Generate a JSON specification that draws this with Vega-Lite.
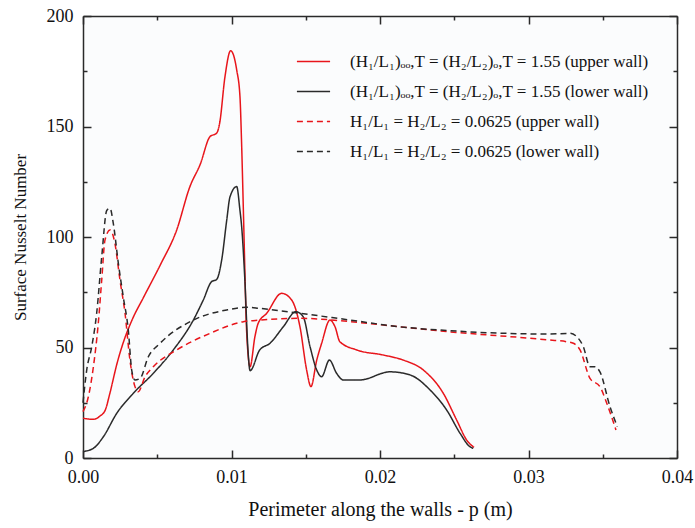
{
  "$schema": "https://vega.github.io/schema/vega-lite/v6.json",
  "width": 594,
  "height": 442,
  "autosize": "none",
  "padding": {"left": 83, "top": 16, "right": 18, "bottom": 70},
  "background": "#ffffff",
  "config": {
    "font": "Liberation Serif",
    "view": {"stroke": null, "fill": "#fbfcfd"},
    "axis": {
      "grid": false,
      "domainColor": "#2a2a2a",
      "domainWidth": 1.5,
      "tickColor": "#2a2a2a",
      "tickWidth": 1.5,
      "labelFont": "Liberation Serif",
      "labelFontSize": 18,
      "labelColor": "#111111",
      "titleFont": "Liberation Serif",
      "titleFontWeight": "normal",
      "titleColor": "#111111"
    }
  },
  "datasets": {
    "curves": [
      {"p": 0, "nu": 18, "s": "(H₁/L₁)ₒₒ,T = (H₂/L₂)ₒ,T = 1.55 (upper wall)"},
      {"p": 0.0007, "nu": 17.5, "s": "(H₁/L₁)ₒₒ,T = (H₂/L₂)ₒ,T = 1.55 (upper wall)"},
      {"p": 0.00115, "nu": 19, "s": "(H₁/L₁)ₒₒ,T = (H₂/L₂)ₒ,T = 1.55 (upper wall)"},
      {"p": 0.0015, "nu": 21.7, "s": "(H₁/L₁)ₒₒ,T = (H₂/L₂)ₒ,T = 1.55 (upper wall)"},
      {"p": 0.0018, "nu": 29, "s": "(H₁/L₁)ₒₒ,T = (H₂/L₂)ₒ,T = 1.55 (upper wall)"},
      {"p": 0.0023, "nu": 43, "s": "(H₁/L₁)ₒₒ,T = (H₂/L₂)ₒ,T = 1.55 (upper wall)"},
      {"p": 0.0027, "nu": 52, "s": "(H₁/L₁)ₒₒ,T = (H₂/L₂)ₒ,T = 1.55 (upper wall)"},
      {"p": 0.0033, "nu": 62.4, "s": "(H₁/L₁)ₒₒ,T = (H₂/L₂)ₒ,T = 1.55 (upper wall)"},
      {"p": 0.0041, "nu": 73, "s": "(H₁/L₁)ₒₒ,T = (H₂/L₂)ₒ,T = 1.55 (upper wall)"},
      {"p": 0.0052, "nu": 87.3, "s": "(H₁/L₁)ₒₒ,T = (H₂/L₂)ₒ,T = 1.55 (upper wall)"},
      {"p": 0.0063, "nu": 103, "s": "(H₁/L₁)ₒₒ,T = (H₂/L₂)ₒ,T = 1.55 (upper wall)"},
      {"p": 0.0072, "nu": 122.8, "s": "(H₁/L₁)ₒₒ,T = (H₂/L₂)ₒ,T = 1.55 (upper wall)"},
      {"p": 0.0079, "nu": 133, "s": "(H₁/L₁)ₒₒ,T = (H₂/L₂)ₒ,T = 1.55 (upper wall)"},
      {"p": 0.00855, "nu": 145.4, "s": "(H₁/L₁)ₒₒ,T = (H₂/L₂)ₒ,T = 1.55 (upper wall)"},
      {"p": 0.009, "nu": 147, "s": "(H₁/L₁)ₒₒ,T = (H₂/L₂)ₒ,T = 1.55 (upper wall)"},
      {"p": 0.0092, "nu": 151.4, "s": "(H₁/L₁)ₒₒ,T = (H₂/L₂)ₒ,T = 1.55 (upper wall)"},
      {"p": 0.00956, "nu": 172.5, "s": "(H₁/L₁)ₒₒ,T = (H₂/L₂)ₒ,T = 1.55 (upper wall)"},
      {"p": 0.00994, "nu": 184.3, "s": "(H₁/L₁)ₒₒ,T = (H₂/L₂)ₒ,T = 1.55 (upper wall)"},
      {"p": 0.01035, "nu": 175.6, "s": "(H₁/L₁)ₒₒ,T = (H₂/L₂)ₒ,T = 1.55 (upper wall)"},
      {"p": 0.01057, "nu": 163.5, "s": "(H₁/L₁)ₒₒ,T = (H₂/L₂)ₒ,T = 1.55 (upper wall)"},
      {"p": 0.01068, "nu": 142.4, "s": "(H₁/L₁)ₒₒ,T = (H₂/L₂)ₒ,T = 1.55 (upper wall)"},
      {"p": 0.0108, "nu": 112, "s": "(H₁/L₁)ₒₒ,T = (H₂/L₂)ₒ,T = 1.55 (upper wall)"},
      {"p": 0.0109, "nu": 85, "s": "(H₁/L₁)ₒₒ,T = (H₂/L₂)ₒ,T = 1.55 (upper wall)"},
      {"p": 0.011, "nu": 60, "s": "(H₁/L₁)ₒₒ,T = (H₂/L₂)ₒ,T = 1.55 (upper wall)"},
      {"p": 0.01125, "nu": 41.3, "s": "(H₁/L₁)ₒₒ,T = (H₂/L₂)ₒ,T = 1.55 (upper wall)"},
      {"p": 0.01158, "nu": 55, "s": "(H₁/L₁)ₒₒ,T = (H₂/L₂)ₒ,T = 1.55 (upper wall)"},
      {"p": 0.0118, "nu": 61, "s": "(H₁/L₁)ₒₒ,T = (H₂/L₂)ₒ,T = 1.55 (upper wall)"},
      {"p": 0.01237, "nu": 65.5, "s": "(H₁/L₁)ₒₒ,T = (H₂/L₂)ₒ,T = 1.55 (upper wall)"},
      {"p": 0.01338, "nu": 74.5, "s": "(H₁/L₁)ₒₒ,T = (H₂/L₂)ₒ,T = 1.55 (upper wall)"},
      {"p": 0.01405, "nu": 71.5, "s": "(H₁/L₁)ₒₒ,T = (H₂/L₂)ₒ,T = 1.55 (upper wall)"},
      {"p": 0.01461, "nu": 59.4, "s": "(H₁/L₁)ₒₒ,T = (H₂/L₂)ₒ,T = 1.55 (upper wall)"},
      {"p": 0.01506, "nu": 39.8, "s": "(H₁/L₁)ₒₒ,T = (H₂/L₂)ₒ,T = 1.55 (upper wall)"},
      {"p": 0.01535, "nu": 32.3, "s": "(H₁/L₁)ₒₒ,T = (H₂/L₂)ₒ,T = 1.55 (upper wall)"},
      {"p": 0.01574, "nu": 44.3, "s": "(H₁/L₁)ₒₒ,T = (H₂/L₂)ₒ,T = 1.55 (upper wall)"},
      {"p": 0.01607, "nu": 51.9, "s": "(H₁/L₁)ₒₒ,T = (H₂/L₂)ₒ,T = 1.55 (upper wall)"},
      {"p": 0.01663, "nu": 62.4, "s": "(H₁/L₁)ₒₒ,T = (H₂/L₂)ₒ,T = 1.55 (upper wall)"},
      {"p": 0.01697, "nu": 59.4, "s": "(H₁/L₁)ₒₒ,T = (H₂/L₂)ₒ,T = 1.55 (upper wall)"},
      {"p": 0.0173, "nu": 52.6, "s": "(H₁/L₁)ₒₒ,T = (H₂/L₂)ₒ,T = 1.55 (upper wall)"},
      {"p": 0.01843, "nu": 48.9, "s": "(H₁/L₁)ₒₒ,T = (H₂/L₂)ₒ,T = 1.55 (upper wall)"},
      {"p": 0.02022, "nu": 46.6, "s": "(H₁/L₁)ₒₒ,T = (H₂/L₂)ₒ,T = 1.55 (upper wall)"},
      {"p": 0.02157, "nu": 44.3, "s": "(H₁/L₁)ₒₒ,T = (H₂/L₂)ₒ,T = 1.55 (upper wall)"},
      {"p": 0.02292, "nu": 39.8, "s": "(H₁/L₁)ₒₒ,T = (H₂/L₂)ₒ,T = 1.55 (upper wall)"},
      {"p": 0.02426, "nu": 29.3, "s": "(H₁/L₁)ₒₒ,T = (H₂/L₂)ₒ,T = 1.55 (upper wall)"},
      {"p": 0.02516, "nu": 17.2, "s": "(H₁/L₁)ₒₒ,T = (H₂/L₂)ₒ,T = 1.55 (upper wall)"},
      {"p": 0.02584, "nu": 8.1, "s": "(H₁/L₁)ₒₒ,T = (H₂/L₂)ₒ,T = 1.55 (upper wall)"},
      {"p": 0.02633, "nu": 4.8, "s": "(H₁/L₁)ₒₒ,T = (H₂/L₂)ₒ,T = 1.55 (upper wall)"},

      {"p": 0, "nu": 2.9, "s": "(H₁/L₁)ₒₒ,T = (H₂/L₂)ₒ,T = 1.55 (lower wall)"},
      {"p": 0.0007, "nu": 4.4, "s": "(H₁/L₁)ₒₒ,T = (H₂/L₂)ₒ,T = 1.55 (lower wall)"},
      {"p": 0.00137, "nu": 9.6, "s": "(H₁/L₁)ₒₒ,T = (H₂/L₂)ₒ,T = 1.55 (lower wall)"},
      {"p": 0.00227, "nu": 20.2, "s": "(H₁/L₁)ₒₒ,T = (H₂/L₂)ₒ,T = 1.55 (lower wall)"},
      {"p": 0.00339, "nu": 29.3, "s": "(H₁/L₁)ₒₒ,T = (H₂/L₂)ₒ,T = 1.55 (lower wall)"},
      {"p": 0.00473, "nu": 38.3, "s": "(H₁/L₁)ₒₒ,T = (H₂/L₂)ₒ,T = 1.55 (lower wall)"},
      {"p": 0.00608, "nu": 48.9, "s": "(H₁/L₁)ₒₒ,T = (H₂/L₂)ₒ,T = 1.55 (lower wall)"},
      {"p": 0.00743, "nu": 62.4, "s": "(H₁/L₁)ₒₒ,T = (H₂/L₂)ₒ,T = 1.55 (lower wall)"},
      {"p": 0.0081, "nu": 71.5, "s": "(H₁/L₁)ₒₒ,T = (H₂/L₂)ₒ,T = 1.55 (lower wall)"},
      {"p": 0.00866, "nu": 79.8, "s": "(H₁/L₁)ₒₒ,T = (H₂/L₂)ₒ,T = 1.55 (lower wall)"},
      {"p": 0.009, "nu": 80.8, "s": "(H₁/L₁)ₒₒ,T = (H₂/L₂)ₒ,T = 1.55 (lower wall)"},
      {"p": 0.00934, "nu": 89.6, "s": "(H₁/L₁)ₒₒ,T = (H₂/L₂)ₒ,T = 1.55 (lower wall)"},
      {"p": 0.00968, "nu": 107.7, "s": "(H₁/L₁)ₒₒ,T = (H₂/L₂)ₒ,T = 1.55 (lower wall)"},
      {"p": 0.0099, "nu": 118.2, "s": "(H₁/L₁)ₒₒ,T = (H₂/L₂)ₒ,T = 1.55 (lower wall)"},
      {"p": 0.01035, "nu": 122.8, "s": "(H₁/L₁)ₒₒ,T = (H₂/L₂)ₒ,T = 1.55 (lower wall)"},
      {"p": 0.01057, "nu": 112, "s": "(H₁/L₁)ₒₒ,T = (H₂/L₂)ₒ,T = 1.55 (lower wall)"},
      {"p": 0.01068, "nu": 105, "s": "(H₁/L₁)ₒₒ,T = (H₂/L₂)ₒ,T = 1.55 (lower wall)"},
      {"p": 0.0109, "nu": 80.5, "s": "(H₁/L₁)ₒₒ,T = (H₂/L₂)ₒ,T = 1.55 (lower wall)"},
      {"p": 0.0111, "nu": 50, "s": "(H₁/L₁)ₒₒ,T = (H₂/L₂)ₒ,T = 1.55 (lower wall)"},
      {"p": 0.01125, "nu": 39.5, "s": "(H₁/L₁)ₒₒ,T = (H₂/L₂)ₒ,T = 1.55 (lower wall)"},
      {"p": 0.0119, "nu": 48.9, "s": "(H₁/L₁)ₒₒ,T = (H₂/L₂)ₒ,T = 1.55 (lower wall)"},
      {"p": 0.01259, "nu": 51.9, "s": "(H₁/L₁)ₒₒ,T = (H₂/L₂)ₒ,T = 1.55 (lower wall)"},
      {"p": 0.01349, "nu": 59.4, "s": "(H₁/L₁)ₒₒ,T = (H₂/L₂)ₒ,T = 1.55 (lower wall)"},
      {"p": 0.01434, "nu": 66.2, "s": "(H₁/L₁)ₒₒ,T = (H₂/L₂)ₒ,T = 1.55 (lower wall)"},
      {"p": 0.01483, "nu": 63.9, "s": "(H₁/L₁)ₒₒ,T = (H₂/L₂)ₒ,T = 1.55 (lower wall)"},
      {"p": 0.01529, "nu": 50.4, "s": "(H₁/L₁)ₒₒ,T = (H₂/L₂)ₒ,T = 1.55 (lower wall)"},
      {"p": 0.01574, "nu": 39.8, "s": "(H₁/L₁)ₒₒ,T = (H₂/L₂)ₒ,T = 1.55 (lower wall)"},
      {"p": 0.01607, "nu": 36.8, "s": "(H₁/L₁)ₒₒ,T = (H₂/L₂)ₒ,T = 1.55 (lower wall)"},
      {"p": 0.01659, "nu": 44.3, "s": "(H₁/L₁)ₒₒ,T = (H₂/L₂)ₒ,T = 1.55 (lower wall)"},
      {"p": 0.01708, "nu": 38.3, "s": "(H₁/L₁)ₒₒ,T = (H₂/L₂)ₒ,T = 1.55 (lower wall)"},
      {"p": 0.01753, "nu": 35.3, "s": "(H₁/L₁)ₒₒ,T = (H₂/L₂)ₒ,T = 1.55 (lower wall)"},
      {"p": 0.01865, "nu": 35.3, "s": "(H₁/L₁)ₒₒ,T = (H₂/L₂)ₒ,T = 1.55 (lower wall)"},
      {"p": 0.02067, "nu": 39, "s": "(H₁/L₁)ₒₒ,T = (H₂/L₂)ₒ,T = 1.55 (lower wall)"},
      {"p": 0.02202, "nu": 37.6, "s": "(H₁/L₁)ₒₒ,T = (H₂/L₂)ₒ,T = 1.55 (lower wall)"},
      {"p": 0.02337, "nu": 30.8, "s": "(H₁/L₁)ₒₒ,T = (H₂/L₂)ₒ,T = 1.55 (lower wall)"},
      {"p": 0.02449, "nu": 21.7, "s": "(H₁/L₁)ₒₒ,T = (H₂/L₂)ₒ,T = 1.55 (lower wall)"},
      {"p": 0.02539, "nu": 11.2, "s": "(H₁/L₁)ₒₒ,T = (H₂/L₂)ₒ,T = 1.55 (lower wall)"},
      {"p": 0.02606, "nu": 5.1, "s": "(H₁/L₁)ₒₒ,T = (H₂/L₂)ₒ,T = 1.55 (lower wall)"},
      {"p": 0.02628, "nu": 4.4, "s": "(H₁/L₁)ₒₒ,T = (H₂/L₂)ₒ,T = 1.55 (lower wall)"},

      {"p": 0, "nu": 21, "s": "H₁/L₁ = H₂/L₂ = 0.0625 (upper wall)"},
      {"p": 0.00036, "nu": 27.7, "s": "H₁/L₁ = H₂/L₂ = 0.0625 (upper wall)"},
      {"p": 0.0007, "nu": 41.3, "s": "H₁/L₁ = H₂/L₂ = 0.0625 (upper wall)"},
      {"p": 0.00103, "nu": 61, "s": "H₁/L₁ = H₂/L₂ = 0.0625 (upper wall)"},
      {"p": 0.00126, "nu": 80.5, "s": "H₁/L₁ = H₂/L₂ = 0.0625 (upper wall)"},
      {"p": 0.00148, "nu": 98.6, "s": "H₁/L₁ = H₂/L₂ = 0.0625 (upper wall)"},
      {"p": 0.00182, "nu": 103.2, "s": "H₁/L₁ = H₂/L₂ = 0.0625 (upper wall)"},
      {"p": 0.00215, "nu": 97.1, "s": "H₁/L₁ = H₂/L₂ = 0.0625 (upper wall)"},
      {"p": 0.00249, "nu": 80.5, "s": "H₁/L₁ = H₂/L₂ = 0.0625 (upper wall)"},
      {"p": 0.00283, "nu": 65.5, "s": "H₁/L₁ = H₂/L₂ = 0.0625 (upper wall)"},
      {"p": 0.00316, "nu": 44.3, "s": "H₁/L₁ = H₂/L₂ = 0.0625 (upper wall)"},
      {"p": 0.0035, "nu": 32.3, "s": "H₁/L₁ = H₂/L₂ = 0.0625 (upper wall)"},
      {"p": 0.00372, "nu": 30, "s": "H₁/L₁ = H₂/L₂ = 0.0625 (upper wall)"},
      {"p": 0.00418, "nu": 36.8, "s": "H₁/L₁ = H₂/L₂ = 0.0625 (upper wall)"},
      {"p": 0.00473, "nu": 41.3, "s": "H₁/L₁ = H₂/L₂ = 0.0625 (upper wall)"},
      {"p": 0.00631, "nu": 48.9, "s": "H₁/L₁ = H₂/L₂ = 0.0625 (upper wall)"},
      {"p": 0.00855, "nu": 56.4, "s": "H₁/L₁ = H₂/L₂ = 0.0625 (upper wall)"},
      {"p": 0.0108, "nu": 61.7, "s": "H₁/L₁ = H₂/L₂ = 0.0625 (upper wall)"},
      {"p": 0.0119, "nu": 62.4, "s": "H₁/L₁ = H₂/L₂ = 0.0625 (upper wall)"},
      {"p": 0.0146, "nu": 63.2, "s": "H₁/L₁ = H₂/L₂ = 0.0625 (upper wall)"},
      {"p": 0.018, "nu": 61.7, "s": "H₁/L₁ = H₂/L₂ = 0.0625 (upper wall)"},
      {"p": 0.0213, "nu": 59.4, "s": "H₁/L₁ = H₂/L₂ = 0.0625 (upper wall)"},
      {"p": 0.0247, "nu": 57.1, "s": "H₁/L₁ = H₂/L₂ = 0.0625 (upper wall)"},
      {"p": 0.0314, "nu": 53.4, "s": "H₁/L₁ = H₂/L₂ = 0.0625 (upper wall)"},
      {"p": 0.03257, "nu": 52.6, "s": "H₁/L₁ = H₂/L₂ = 0.0625 (upper wall)"},
      {"p": 0.03302, "nu": 51.9, "s": "H₁/L₁ = H₂/L₂ = 0.0625 (upper wall)"},
      {"p": 0.03347, "nu": 48.9, "s": "H₁/L₁ = H₂/L₂ = 0.0625 (upper wall)"},
      {"p": 0.03414, "nu": 36, "s": "H₁/L₁ = H₂/L₂ = 0.0625 (upper wall)"},
      {"p": 0.03481, "nu": 32.3, "s": "H₁/L₁ = H₂/L₂ = 0.0625 (upper wall)"},
      {"p": 0.03527, "nu": 24.8, "s": "H₁/L₁ = H₂/L₂ = 0.0625 (upper wall)"},
      {"p": 0.03589, "nu": 12.7, "s": "H₁/L₁ = H₂/L₂ = 0.0625 (upper wall)"},

      {"p": 0, "nu": 25, "s": "H₁/L₁ = H₂/L₂ = 0.0625 (lower wall)"},
      {"p": 0.00025, "nu": 39.8, "s": "H₁/L₁ = H₂/L₂ = 0.0625 (lower wall)"},
      {"p": 0.00059, "nu": 50.4, "s": "H₁/L₁ = H₂/L₂ = 0.0625 (lower wall)"},
      {"p": 0.00092, "nu": 65.5, "s": "H₁/L₁ = H₂/L₂ = 0.0625 (lower wall)"},
      {"p": 0.00126, "nu": 91, "s": "H₁/L₁ = H₂/L₂ = 0.0625 (lower wall)"},
      {"p": 0.0016, "nu": 112, "s": "H₁/L₁ = H₂/L₂ = 0.0625 (lower wall)"},
      {"p": 0.00182, "nu": 113, "s": "H₁/L₁ = H₂/L₂ = 0.0625 (lower wall)"},
      {"p": 0.00204, "nu": 106.2, "s": "H₁/L₁ = H₂/L₂ = 0.0625 (lower wall)"},
      {"p": 0.00238, "nu": 88.1, "s": "H₁/L₁ = H₂/L₂ = 0.0625 (lower wall)"},
      {"p": 0.00271, "nu": 73, "s": "H₁/L₁ = H₂/L₂ = 0.0625 (lower wall)"},
      {"p": 0.00305, "nu": 57.9, "s": "H₁/L₁ = H₂/L₂ = 0.0625 (lower wall)"},
      {"p": 0.00328, "nu": 39.8, "s": "H₁/L₁ = H₂/L₂ = 0.0625 (lower wall)"},
      {"p": 0.0035, "nu": 35.3, "s": "H₁/L₁ = H₂/L₂ = 0.0625 (lower wall)"},
      {"p": 0.00384, "nu": 36, "s": "H₁/L₁ = H₂/L₂ = 0.0625 (lower wall)"},
      {"p": 0.0044, "nu": 45.8, "s": "H₁/L₁ = H₂/L₂ = 0.0625 (lower wall)"},
      {"p": 0.00519, "nu": 51.9, "s": "H₁/L₁ = H₂/L₂ = 0.0625 (lower wall)"},
      {"p": 0.00743, "nu": 62.4, "s": "H₁/L₁ = H₂/L₂ = 0.0625 (lower wall)"},
      {"p": 0.00968, "nu": 67, "s": "H₁/L₁ = H₂/L₂ = 0.0625 (lower wall)"},
      {"p": 0.011, "nu": 68.2, "s": "H₁/L₁ = H₂/L₂ = 0.0625 (lower wall)"},
      {"p": 0.0119, "nu": 67.7, "s": "H₁/L₁ = H₂/L₂ = 0.0625 (lower wall)"},
      {"p": 0.0146, "nu": 65.5, "s": "H₁/L₁ = H₂/L₂ = 0.0625 (lower wall)"},
      {"p": 0.018, "nu": 62.4, "s": "H₁/L₁ = H₂/L₂ = 0.0625 (lower wall)"},
      {"p": 0.0213, "nu": 59.4, "s": "H₁/L₁ = H₂/L₂ = 0.0625 (lower wall)"},
      {"p": 0.0247, "nu": 57.6, "s": "H₁/L₁ = H₂/L₂ = 0.0625 (lower wall)"},
      {"p": 0.0314, "nu": 56.1, "s": "H₁/L₁ = H₂/L₂ = 0.0625 (lower wall)"},
      {"p": 0.0328, "nu": 56.4, "s": "H₁/L₁ = H₂/L₂ = 0.0625 (lower wall)"},
      {"p": 0.03325, "nu": 54.9, "s": "H₁/L₁ = H₂/L₂ = 0.0625 (lower wall)"},
      {"p": 0.03369, "nu": 50.4, "s": "H₁/L₁ = H₂/L₂ = 0.0625 (lower wall)"},
      {"p": 0.03414, "nu": 41.3, "s": "H₁/L₁ = H₂/L₂ = 0.0625 (lower wall)"},
      {"p": 0.03448, "nu": 41.3, "s": "H₁/L₁ = H₂/L₂ = 0.0625 (lower wall)"},
      {"p": 0.03481, "nu": 39, "s": "H₁/L₁ = H₂/L₂ = 0.0625 (lower wall)"},
      {"p": 0.03549, "nu": 23.2, "s": "H₁/L₁ = H₂/L₂ = 0.0625 (lower wall)"},
      {"p": 0.03598, "nu": 14.2, "s": "H₁/L₁ = H₂/L₂ = 0.0625 (lower wall)"}
    ]
  },
  "data": {"name": "curves"},
  "layer": [
    {
      "mark": {"type": "line", "strokeWidth": 1.5, "interpolate": "monotone"},
      "encoding": {
        "x": {
          "field": "p", "type": "quantitative",
          "scale": {"domain": [0, 0.04], "nice": false, "zero": false},
          "axis": {
            "orient": "bottom",
            "title": "Perimeter along the walls - p (m)",
            "titleFontSize": 20,
            "values": [0, 0.005, 0.01, 0.015, 0.02, 0.025, 0.03, 0.035, 0.04],
            "format": ".2f",
            "labelExpr": "round(datum.value*200) % 2 == 0 ? datum.label : ''",
            "tickSize": {"condition": {"test": "round(datum.value*200) % 2 == 0", "value": -8}, "value": -4},
            "labelPadding": 18,
            "labelFlush": false,
            "titlePadding": 13
          }
        },
        "y": {
          "field": "nu", "type": "quantitative",
          "scale": {"domain": [0, 200], "nice": false},
          "axis": {
            "orient": "left",
            "title": "Surface Nusselt Number",
            "titleFontSize": 17,
            "values": [0, 25, 50, 75, 100, 125, 150, 175, 200],
            "labelExpr": "datum.value % 50 == 0 ? datum.label : ''",
            "tickSize": {"condition": {"test": "datum.value % 50 == 0", "value": -8}, "value": -4},
            "labelPadding": 18,
            "labelFlush": false,
            "titlePadding": 17
          }
        },
        "color": {
          "field": "s", "type": "nominal",
          "scale": {
            "domain": ["(H₁/L₁)ₒₒ,T = (H₂/L₂)ₒ,T = 1.55 (upper wall)", "(H₁/L₁)ₒₒ,T = (H₂/L₂)ₒ,T = 1.55 (lower wall)", "H₁/L₁ = H₂/L₂ = 0.0625 (upper wall)", "H₁/L₁ = H₂/L₂ = 0.0625 (lower wall)"],
            "range": ["#e8151b", "#2a2a2a", "#e8151b", "#2a2a2a"]
          },
          "legend": {
            "orient": "none", "legendX": 213, "legendY": 28, "title": null,
            "symbolType": "stroke", "symbolSize": 1100, "symbolStrokeWidth": 1.5,
            "labelFont": "Liberation Serif", "labelFontSize": 17, "labelColor": "#111111",
            "rowPadding": 4, "labelOffset": 19, "labelLimit": 400
          }
        },
        "strokeDash": {
          "field": "s", "type": "nominal",
          "scale": {
            "domain": ["(H₁/L₁)ₒₒ,T = (H₂/L₂)ₒ,T = 1.55 (upper wall)", "(H₁/L₁)ₒₒ,T = (H₂/L₂)ₒ,T = 1.55 (lower wall)", "H₁/L₁ = H₂/L₂ = 0.0625 (upper wall)", "H₁/L₁ = H₂/L₂ = 0.0625 (lower wall)"],
            "range": [[1, 0], [1, 0], [6, 4], [6, 4]]
          },
          "legend": {
            "orient": "none", "legendX": 213, "legendY": 28, "title": null,
            "symbolType": "stroke", "symbolSize": 1100, "symbolStrokeWidth": 1.5,
            "labelFont": "Liberation Serif", "labelFontSize": 17, "labelColor": "#111111",
            "rowPadding": 4, "labelOffset": 19, "labelLimit": 400
          }
        }
      }
    },
    {
      "mark": {"type": "line", "opacity": 0},
      "encoding": {
        "x": {
          "field": "p", "type": "quantitative",
          "axis": {
            "orient": "top", "title": null, "labels": false,
            "values": [0, 0.005, 0.01, 0.015, 0.02, 0.025, 0.03, 0.035, 0.04],
            "tickSize": {"condition": {"test": "round(datum.value*200) % 2 == 0", "value": -8}, "value": -4}
          }
        },
        "y": {
          "field": "nu", "type": "quantitative",
          "axis": {
            "orient": "right", "title": null, "labels": false,
            "values": [0, 25, 50, 75, 100, 125, 150, 175, 200],
            "tickSize": {"condition": {"test": "datum.value % 50 == 0", "value": -8}, "value": -4}
          }
        },
        "detail": {"field": "s", "type": "nominal"}
      }
    }
  ],
  "resolve": {"axis": {"x": "independent", "y": "independent"}}
}
